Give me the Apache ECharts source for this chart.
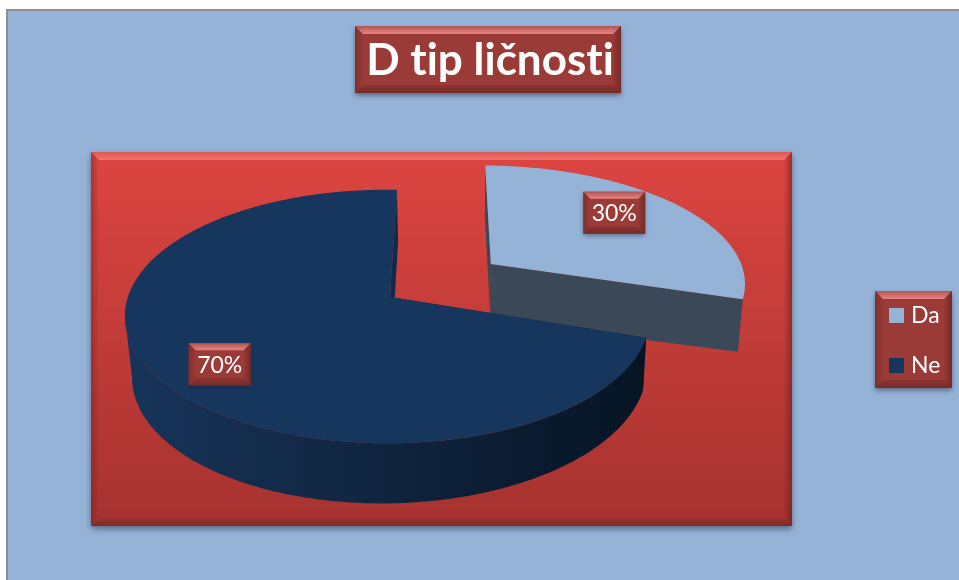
<!DOCTYPE html>
<html><head><meta charset="utf-8">
<style>html,body{margin:0;padding:0;background:#fff}#c{width:959px;height:580px}</style>
<script src="https://cdn.jsdelivr.net/npm/echarts@6/dist/echarts.min.js"></script>
</head><body><div id="c"></div>
<script>
const titleText = 'D tip ličnosti';
const categories = ['Da', 'Ne'];
const values = [30, 70];
const topColors = ['#95b3d7', '#17365d'];

// Draw text without the font's "ti" ligatures
const nativeFillText = CanvasRenderingContext2D.prototype.fillText;
CanvasRenderingContext2D.prototype.fillText = function () {
  this.textRendering = 'optimizeSpeed';
  return nativeFillText.apply(this, arguments);
};

// Perspective projection of the unit pie plane onto the page (one per slice)
const planes = [
  {a:274, b:-68, c:394, d:6.5, e:75, f:297, g:0.0275, h:-0.154},
  {a:270, b:-63, c:395, d:10, e:78, f:297, g:0.0275, h:-0.154}
];
function proj(H, u, v) {
  const w = H.g*u + H.h*v + 1;
  return [(H.a*u + H.b*v + H.c)/w, (H.d*u + H.e*v + H.f)/w];
}
// Extrusion toward a far vanishing point
const VP = [469, 3270];
function drop(H, u, v, extra) {
  const p = proj(H, u, v);
  const dy = 56 - 4.85*u + 4*v + extra;
  const dx = (VP[0]-p[0]) * dy / (VP[1]-p[1]);
  return [p[0]+dx, p[1]+dy];
}
const sliceStyle = [
  {ex:0.384, ey:-0.282, r:1.035, labelR:0.7, shift:[-5,-9], apexDx:-1, extra:3,
   wall:'#3b4858', side:null},
  {ex:0, ey:0, r:1, labelR:0.75, shift:[-2.5,9], apexDx:-5, extra:0,
   wall:'#122949',
   side:{type:'linear',x:124,y:0,x2:645,y2:0,global:true,colorStops:[
     {offset:0,color:'#17345a'},{offset:0.5,color:'#10243e'},{offset:1,color:'#061424'}]}}
];

const vg = (a,b)=>({type:'linear',x:0,y:0,x2:0,y2:1,colorStops:[{offset:0,color:a},{offset:1,color:b}]});
const hg = (a,b)=>({type:'linear',x:0,y:0,x2:1,y2:0,colorStops:[{offset:0,color:a},{offset:1,color:b}]});
function bevel(x0,y0,x1,y1,b,fill,tb,bb,lb,rb,shadow){
  return [
    {type:'rect',shape:{x:x0,y:y0,width:x1-x0,height:y1-y0},
     style:{fill:fill,shadowBlur:shadow,shadowOffsetY:shadow*0.5,shadowOffsetX:0,shadowColor:'rgba(30,30,50,0.5)'}},
    {type:'polygon',shape:{points:[[x0,y0],[x1,y0],[x1-b,y0+b],[x0+b,y0+b]]},style:{fill:tb}},
    {type:'polygon',shape:{points:[[x0,y1],[x1,y1],[x1-b,y1-b],[x0+b,y1-b]]},style:{fill:bb}},
    {type:'polygon',shape:{points:[[x0,y0],[x0+b,y0+b],[x0+b,y1-b],[x0,y1]]},style:{fill:lb}},
    {type:'polygon',shape:{points:[[x1,y0],[x1-b,y0+b],[x1-b,y1-b],[x1,y1]]},style:{fill:rb}}
  ];
}
function darkBox(x0,y0,x1,y1,b){
  return bevel(x0,y0,x1,y1,b,'#9b3b38',vg('#b05654','#ea8482'),vg('#8c3431','#752b29'),
    hg('rgba(110,35,33,0.55)','rgba(110,35,33,0.05)'),hg('rgba(90,28,28,0.05)','rgba(90,28,28,0.6)'),5);
}

const graphics = [].concat(
  [{type:'rect',shape:{x:7,y:10,width:960,height:580},style:{fill:'#95b3d7',stroke:'#8f8f8f',lineWidth:2}}],
  bevel(91,152,792,526,8,vg('#dd4541','#a5322f'),vg('#d85a56','#f8706c'),vg('#9a3230','#7a2a28'),
    hg('rgba(120,30,30,0.45)','rgba(120,30,30,0.02)'),hg('rgba(90,25,25,0.02)','rgba(90,25,25,0.5)'),6),
  darkBox(355,26,621,93,8),
  darkBox(875,291,952,388,8)
);

const total = values.reduce((s,v)=>s+v,0);
function renderSlice(idx){
  return function(params, api){
    const val = api.value(0);
    let before = 0;
    for (let i=0;i<idx;i++) before += values[i];
    const a0 = before/total*Math.PI*2, a1 = (before+val)/total*Math.PI*2;
    const st = sliceStyle[idx], H = planes[idx];
    const uv = (ang,r)=>[st.ex + r*Math.sin(ang), st.ey - r*Math.cos(ang)];
    const n = Math.max(2, Math.round((a1-a0)*90));
    const topArc=[], botArc=[];
    for (let i=0;i<=n;i++){
      const q = uv(a0+(a1-a0)*i/n, st.r);
      topArc.push(proj(H,q[0],q[1]));
      botArc.push(drop(H,q[0],q[1],st.extra));
    }
    const cP = proj(H,st.ex,st.ey), cB = drop(H,st.ex,st.ey,st.extra);
    cP[0]+=st.apexDx; cB[0]+=st.apexDx;
    const children=[];
    children.push({type:'polygon',shape:{points:[topArc[0],cP,cB,botArc[0]]},style:{fill:st.wall}});
    children.push({type:'polygon',shape:{points:[topArc[n],cP,cB,botArc[n]]},style:{fill:st.wall}});
    if (st.side){
      // outer wall runs only up to the leftmost (silhouette) point of the rim
      let k=0;
      topArc.forEach((p,i)=>{ if(p[0]<topArc[k][0]) k=i; });
      const rim=topArc.slice(0,k+1), base=botArc.slice(0,k+1).reverse();
      children.push({type:'polygon',shape:{points:rim.concat(base)},style:{fill:st.side}});
    }
    children.push({type:'polygon',shape:{points:[cP].concat(topArc)},style:{fill:topColors[idx]}});
    // data label
    const mid=(a0+a1)/2, lq=uv(mid,st.labelR), lp=proj(H,lq[0],lq[1]);
    const cx=lp[0]+st.shift[0], cy=lp[1]+st.shift[1];
    const hw=31, hh=21;
    darkBox(cx-hw,cy-hh,cx+hw,cy+hh,7).forEach(e=>children.push(e));
    children.push({type:'text',style:{text:Math.round(val/total*100)+'%',x:cx,y:cy+1,align:'center',verticalAlign:'middle',
      fill:'#fff',font:'23px Lato'}});
    return {type:'group',children:children};
  };
}

const chart = echarts.init(document.getElementById('c'),null,{renderer:'canvas'});
chart.setOption({
  animation:false,
  backgroundColor:'#fff',
  title:{text:titleText,left:485,top:34,textAlign:'center',
    textStyle:{color:'#fff',fontFamily:'Lato',fontWeight:'bold',fontSize:44}},
  legend:{orient:'vertical',left:884,top:299,itemWidth:15,itemHeight:15,itemGap:27,icon:'rect',
    data:categories,selectedMode:false,
    textStyle:{color:'#fff',fontFamily:'Lato',fontSize:23,padding:[0,0,0,2]}},
  graphic:{elements:graphics},
  series:categories.map((name,i)=>({
    type:'custom',name:name,coordinateSystem:'none',silent:true,
    itemStyle:{color:topColors[i]},
    renderItem:renderSlice(i),
    data:[[values[i]]]
  }))
});
</script></body></html>
